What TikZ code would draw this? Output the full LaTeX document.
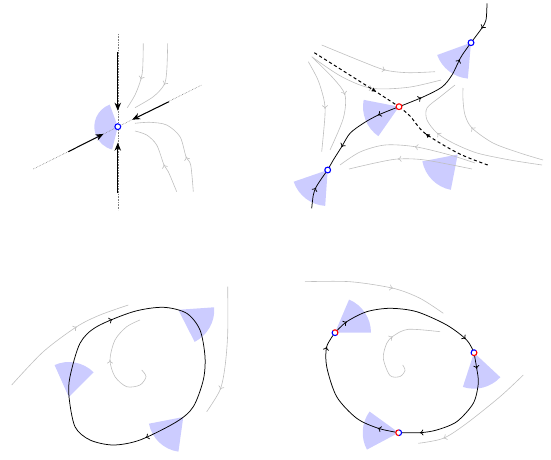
\documentclass[tikz,border=0pt]{standalone}
\usepackage{tikz}
\usetikzlibrary{arrows.meta, decorations.markings}

% filled cone: vertex, start angle, end angle, radius
\newcommand{\conewedge}[4]{\fill[cone] (#1) -- ++(#2:#4) arc[start angle=#2, end angle=#3, radius=#4] -- cycle;}
% half blue / half red ring on a node
\newcommand{\twotone}[2]{%
  \draw[blue, line width=1.1pt] (#1.center) ++(#2:2.9) arc[start angle=#2, delta angle=180, radius=2.9];
  \draw[red, line width=1.1pt] (#1.center) ++(#2+180:2.9) arc[start angle=#2+180, delta angle=180, radius=2.9];}

\begin{document}
\begin{tikzpicture}[
    x=1pt, y=-1pt,
    flow/.style={black!25, line width=0.6pt},
    orbit/.style={black, line width=0.75pt},
    cone/.style={fill=blue!20},
    axis/.style={black!50, densely dotted, line width=0.6pt},
    bigarrow/.style={-{Stealth[length=8pt, width=6.5pt]}, line width=1pt, shorten >=16pt},
    sepline/.style={black, line width=1pt, dash pattern=on 3.2pt off 2.6pt},
    mid/.style={postaction={decorate}, decoration={markings, mark=at position #1 with {\arrow{To[length=3.5pt, width=6pt]}}}},
    midtwo/.style 2 args={postaction={decorate}, decoration={markings,
        mark=at position #1 with {\arrow{To[length=3.5pt, width=6pt]}},
        mark=at position #2 with {\arrow{To[length=3.5pt, width=6pt]}}}},
    midfull/.style={postaction={decorate}, decoration={markings, mark=at position #1 with {\arrow{Latex[length=4.5pt, width=4.5pt]}}}},
    sink/.style={circle, draw=blue, fill=white, line width=1.1pt, inner sep=0pt, minimum size=5.8pt},
    saddle/.style={circle, draw=red, fill=white, line width=1.1pt, inner sep=0pt, minimum size=5.8pt},
    hollow/.style={circle, fill=white, inner sep=0pt, minimum size=6.5pt}
]
\useasboundingbox (0,0) rectangle (551,460);

% Panel 1: stable node
\coordinate (n1) at (117.8,126.7);
\conewedge{n1}{-110}{-256}{23.5}
\draw[axis] (117.8,34) -- (117.8,210);
\draw[axis] (33.3,169) -- (201.7,85);
\draw[flow, mid=0.54] plot[smooth] coordinates {(143.3,43.3) (142.7,68.3) (140.7,80) (135,95) (127.3,107.7)};
\draw[flow, mid=0.53] plot[smooth] coordinates {(167.7,43.3) (166.7,71.7) (164,85) (153.3,96.7) (135,107.7)};
\draw[flow, mid=0.34] plot[smooth] coordinates {(193.3,191.7) (190.7,165) (186,156.7) (180,136.7) (166.7,125) (150,122.3) (135,123.3)};
\draw[flow, mid=0.39] plot[smooth] coordinates {(176.7,191.7) (168.3,171.7) (164,165) (156.7,145) (146.7,135) (135,131)};
\coordinate (a1) at (117.8,52);
\coordinate (a2) at (117.8,193);
\coordinate (a3) at (68.3,151.7);
\coordinate (a4) at (169,101.7);
\draw[bigarrow] (a1) -- (n1);
\draw[bigarrow] (a2) -- (n1);
\draw[bigarrow] (a3) -- (n1);
\draw[bigarrow] (a4) -- (n1);

% Panel 2: saddle between two sinks
\coordinate (s2) at (399,106.7);
\coordinate (u2) at (471,42.7);
\coordinate (d2) at (327.7,170);
\coordinate (w2) at (457.7,154.5);
\conewedge{s2}{-169}{-235}{36}
\conewedge{u2}{-200}{-265}{36}
\conewedge{d2}{-199}{-266}{36}
\conewedge{w2}{-191}{-259}{36}
\draw[flow, mid=0.58] plot[smooth] coordinates {(321.7,45) (358.3,60) (385,70) (408.3,72.7) (435,71.7)};
\draw[flow, mid=0.5] plot[smooth] coordinates {(311.7,56.7) (341.7,76.7) (371.7,88.3) (408.3,87.3) (441,80)};
\draw[flow, mid=0.54] plot[smooth] coordinates {(308.3,61.7) (318,80) (324,100) (325,115) (321.7,151.7)};
\draw[flow, mid=0.46] plot[smooth] coordinates {(312.7,57.7) (333.3,78.3) (345,95) (343.3,118.3) (330,150)};
\draw[flow, mid=0.63] plot[smooth] coordinates {(542,165) (510,160) (477,153) (453,143) (437,133) (427,120) (427,108) (440,97) (455,85)};
\draw[flow, mid=0.66] plot[smooth] coordinates {(543,160) (520,153) (493,143) (472,128) (465,115) (463,100) (463,88)};
\draw[flow, mid=0.44] plot[smooth] coordinates {(475,163) (450,155) (415,146.7) (385,145) (360,152) (340,165)};
\draw[flow, mid=0.6] plot[smooth] coordinates {(472,169) (425,160) (398,159) (375,163) (349,169)};
\draw[sepline, midfull=0.73] plot[smooth] coordinates {(314.3,52.7) (345,72) (376,91.7) (s2)};
\draw[sepline, midfull=0.65] plot[smooth] coordinates {(487.7,165) (458.3,153.3) (425,133.3) (410,116) (s2)};
\draw[orbit, mid=0.6] plot[smooth] coordinates {(487,3.3) (486,20) (481.7,28.3) (u2)};
\draw[orbit, midtwo={0.24}{0.8}] plot[smooth] coordinates {(s2) (423,97) (442,87) (452,75) (461,57) (u2)};
\draw[orbit, midtwo={0.23}{0.73}] plot[smooth] coordinates {(s2) (378.3,115) (363.3,123.3) (350,133.3) (341.7,146.7) (333.3,160) (d2)};
\draw[orbit, mid=0.5] plot[smooth] coordinates {(311.7,208.3) (313.3,195) (316,187.3) (321.7,178.3) (d2)};

% Panel 3: limit cycle
\coordinate (c3a) at (178.3,309.8);
\coordinate (c3b) at (68.8,397);
\coordinate (c3c) at (183.3,417);
\conewedge{c3a}{-4}{63}{36}
\conewedge{c3b}{-45}{-114}{35}
\conewedge{c3c}{-191}{-262}{35}
\draw[flow, mid=0.61] plot[smooth] coordinates {(11.7,385) (43.3,351.7) (76.7,326.7) (100,315) (128.3,305)};
\draw[flow, mid=0.8] plot[smooth] coordinates {(227.7,286.7) (227.7,333.3) (225,366.7) (220,390) (206.7,411.7)};
\draw[flow, mid=0.55] plot[smooth] coordinates {(141.7,370) (146,376.7) (140,385) (126.7,386.7) (115,376.7) (110,360) (115,340) (126.7,326.7) (140,320)};
\draw[orbit, midtwo={0.36}{0.825}] plot[smooth cycle] coordinates {(163.3,307.3) (186.7,313.3) (200,330) (205,356.7) (203.3,380) (193.3,406.7) (176.7,421.7) (140,440) (113.3,445) (90,440) (75,426.7) (69,396.7) (70,376.7) (80,343.3) (96.7,326.7) (133.3,311.7)};

% Panel 4: heteroclinic cycle
\coordinate (p1) at (335,332.7);
\coordinate (p2) at (474,352.7);
\coordinate (p3) at (398.7,432.7);
\conewedge{p1}{0}{-67}{36}
\conewedge{p2}{43}{108}{36}
\conewedge{p3}{-144}{-208}{36}
\draw[flow, mid=0.61] plot[smooth] coordinates {(305,281.7) (350,281.7) (393.3,288.3) (420,298.3) (443.3,313.3)};
\draw[flow, mid=0.8] plot[smooth] coordinates {(523.3,375) (500,396.7) (466.7,423.3) (443.3,438.3) (418.3,443.3)};
\draw[flow, mid=0.58] plot[smooth] coordinates {(402.7,365) (405,370.5) (400,376.5) (390,375.5) (383.3,358.3) (386.7,343.3) (393.3,336) (408.3,329.3) (440,331.7)};
\draw[orbit, midtwo={0.1}{0.9}] plot[smooth] coordinates {(p1) (346.7,321.7) (366.7,311.7) (390,308.3) (416.7,311.7) (446.7,325) (466.7,340) (p2)};
\draw[orbit, midtwo={0.12}{0.845}] plot[smooth] coordinates {(p2) (476.7,368.3) (478.3,383.3) (473.3,403.3) (456.7,421.7) (436.7,430) (420,432.7) (p3)};
\draw[orbit, midtwo={0.15}{0.885}] plot[smooth] coordinates {(p3) (378.3,428.3) (356.7,418.3) (336.7,396.7) (326.7,366.7) (326.7,346.7) (p1)};

% Fixed points on top
\node[sink] (fp1) at (n1) {};
\node[saddle] (sd2) at (s2) {};
\node[sink] (up2) at (u2) {};
\node[sink] (dn2) at (d2) {};
\node[hollow] (h1) at (p1) {};
\twotone{h1}{45}
\node[hollow] (h2) at (p2) {};
\twotone{h2}{135}
\node[hollow] (h3) at (p3) {};
\twotone{h3}{-90}

\end{tikzpicture}
\end{document}
